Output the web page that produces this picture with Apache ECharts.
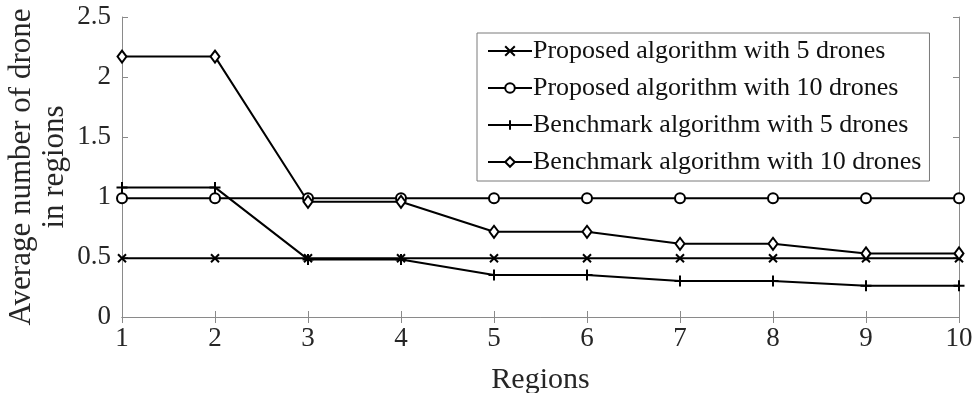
<!DOCTYPE html>
<html>
<head>
<meta charset="utf-8">
<script src="https://cdn.jsdelivr.net/npm/echarts@6/dist/echarts.min.js"></script>
<style>html,body{margin:0;padding:0;background:#fff;}#c{width:975px;height:393px;}</style>
</head>
<body>
<div id="c"></div>
<script>
const regions = [1, 2, 3, 4, 5, 6, 7, 8, 9, 10];
const proposed5 = [0.49, 0.49, 0.49, 0.49, 0.49, 0.49, 0.49, 0.49, 0.49, 0.49];
const proposed10 = [0.99, 0.99, 0.99, 0.99, 0.99, 0.99, 0.99, 0.99, 0.99, 0.99];
const benchmark5 = [1.08, 1.08, 0.48, 0.48, 0.35, 0.35, 0.30, 0.30, 0.26, 0.26];
const benchmark10 = [2.17, 2.17, 0.96, 0.96, 0.71, 0.71, 0.61, 0.61, 0.53, 0.53];
const seriesNames = ['Proposed algorithm with 5 drones', 'Proposed algorithm with 10 drones', 'Benchmark algorithm with 5 drones', 'Benchmark algorithm with 10 drones'];
const yTicks = [0, 0.5, 1, 1.5, 2, 2.5];

const FONT = '"Liberation Serif", "Times New Roman", serif';
const AX = '#8a8a8a';
const TXT = '#262626';

function pairs(vals) { return regions.map((r, i) => [r, vals[i]]); }

function mk(name, vals, symbol, size) {
  return {
    name: name, type: 'line', data: pairs(vals),
    symbol: symbol, symbolSize: size, showSymbol: true,
    lineStyle: { color: '#000', width: 2 },
    itemStyle: { color: '#000', borderColor: '#000', borderWidth: 2 },
    emphasis: { disabled: true }, animation: false
  };
}

const chart = echarts.init(document.getElementById('c'));
const axisCommon = {
  axisLine: { show: true, lineStyle: { color: AX, width: 1 } },
  axisTick: { show: true, inside: true, length: 6, lineStyle: { color: AX } },
  splitLine: { show: false }
};
chart.setOption({
  animation: false,
  backgroundColor: '#fff',
  grid: { left: 122, right: 16, top: 17, bottom: 76, containLabel: false, outerBoundsMode: 'none' },
  legend: {
    orient: 'vertical', left: 477, top: 33,
    padding: [5, 8, 6, 10], itemGap: 11,
    itemWidth: 44, itemHeight: 12,
    borderColor: '#7a7a7a', borderWidth: 1, backgroundColor: '#fff',
    textStyle: { fontFamily: FONT, fontSize: 26, color: '#111', lineHeight: 24, padding: [0, 0, 0, -4] },
    data: seriesNames
  },
  xAxis: [
    Object.assign({
      type: 'value', min: 1, max: 10, interval: 1, position: 'bottom',
      axisLabel: { fontFamily: FONT, fontSize: 27, color: TXT, margin: 8 },
      name: 'Regions', nameLocation: 'middle', nameGap: 48, nameMoveOverlap: false,
      nameTextStyle: { fontFamily: FONT, fontSize: 30, color: TXT }
    }, axisCommon),
    Object.assign({
      type: 'value', min: 1, max: 10, interval: 1, position: 'top',
      axisLabel: { show: false }
    }, axisCommon)
  ],
  yAxis: [
    Object.assign({
      type: 'value', min: yTicks[0], max: yTicks[yTicks.length - 1], interval: 0.5, position: 'left',
      axisLabel: { fontFamily: FONT, fontSize: 27, color: TXT, margin: 11 },
      name: 'Average number of drone\nin regions', nameLocation: 'middle', nameGap: 51, nameRotate: 90,
      nameMoveOverlap: false,
      nameTextStyle: { fontFamily: FONT, fontSize: 31, color: TXT, lineHeight: 33, align: 'center' }
    }, axisCommon),
    Object.assign({
      type: 'value', min: yTicks[0], max: yTicks[yTicks.length - 1], interval: 0.5, position: 'right',
      axisLabel: { show: false }
    }, axisCommon)
  ],
  series: [
    mk(seriesNames[0], proposed5, 'path://M0,0L10,10M0,10L10,0', 8),
    mk(seriesNames[1], proposed10, 'emptyCircle', 10),
    mk(seriesNames[2], benchmark5, 'path://M5,0L5,10M0,5L10,5', 11),
    mk(seriesNames[3], benchmark10, 'emptyDiamond', [9, 12])
  ]
});
</script>
</body>
</html>
